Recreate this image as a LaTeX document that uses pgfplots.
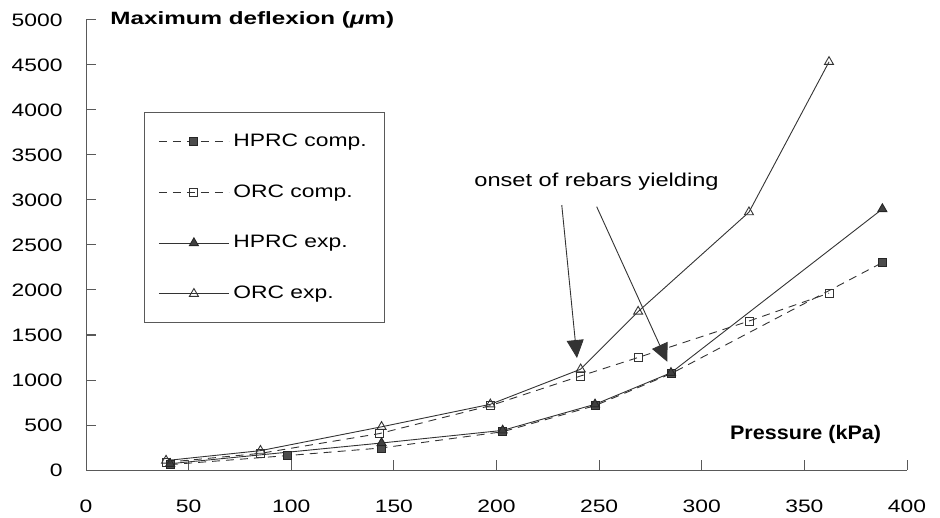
\documentclass[border=0pt]{standalone}
\usepackage{fontspec}
\setmainfont{Liberation Sans}[FakeStretch=1.27]
\newfontfamily\tfont{Liberation Sans}[FakeStretch=1.36]
\newfontfamily\pfont{Liberation Sans}[FakeStretch=1.1]
\usepackage{pgfplots}
\pgfplotsset{compat=1.18}
\usetikzlibrary{arrows.meta}

\tikzset{
  ln/.style={black!80,line width=0.45pt},
  cmp/.style={ln,dash pattern=on 4pt off 3pt},
  hd/.style={ln,-{Triangle[length=9pt,width=8.5pt]}},
}

\begin{document}
\fontsize{9pt}{11pt}\selectfont
\begin{tikzpicture}
\begin{axis}[
  at={(0,0)},anchor=south west,
  scale only axis,width=410.5pt,height=225pt,
  xmin=0,xmax=400,ymin=0,ymax=5000,
  axis lines=left,axis line style={-,black!65,line width=0.5pt},
  xtick={0,50,...,400},ytick={0,500,...,5000},
  tick align=inside,major tick length=5pt,
  tick style={black!65,line width=0.5pt},
  /pgf/number format/assume math mode=true,
  /pgf/number format/1000 sep={},
  tick label style={font=\fontsize{9pt}{11pt}\selectfont},
  xticklabel style={anchor=north,text height=18pt},
  yticklabel shift=8.5pt,
  clip=false,
  legend cell align=left,
  legend style={at={(axis description cs:0.0706,0.7956)},anchor=north west,
    draw=black!65,line width=0.5pt,inner xsep=7pt,inner ysep=8.8pt,row sep=13.7pt,
    font=\fontsize{9pt}{11pt}\selectfont},
  legend image code/.code={\draw[mark repeat=2,mark phase=2,#1]
    plot coordinates {(0pt,0pt)(17.5pt,0pt)(35pt,0pt)};},
]
% computed
\addplot[cmp,mark=square*,mark size=2pt,mark options={solid,fill=black!70,draw=black!85}]
  coordinates {(41,60)(98,160)(144,245)(203,425)(248,715)(285,1070)(388,2305)};
\addlegendentry{HPRC comp.}
\addplot[cmp,mark=square,mark size=2pt,mark options={solid,fill=white,draw=black!80}]
  coordinates {(39,85)(85,185)(143,405)(197,715)(241,1045)(269,1250)(323,1655)(362,1965)};
\addlegendentry{ORC comp.}
% experiments
\addplot[ln,mark=triangle*,mark size=2.6pt,mark options={fill=black!75,draw=black!85}]
  coordinates {(41,70)(144,300)(203,440)(248,730)(285,1080)(388,2900)};
\addlegendentry{HPRC exp.}
\addplot[ln,mark=triangle,mark size=2.6pt,mark options={fill=white,draw=black!80}]
  coordinates {(39,105)(85,215)(144,480)(197,730)(241,1120)(269,1760)(323,2865)(362,4535)};
\addlegendentry{ORC exp.}

\node[anchor=west,font=\tfont\bfseries\fontsize{8.9pt}{11pt}\selectfont] at (axis cs:8.8,5000) {Maximum deflexion ({\itshape μ}m)};
\node[anchor=east,font=\pfont\bfseries\fontsize{9.8pt}{11pt}\selectfont] at (axis cs:390.5,400) {Pressure (kPa)};
\node[anchor=west,font=\fontsize{9.3pt}{11pt}\selectfont] at (axis cs:186.1,3200) {onset of rebars yielding};
\draw[hd] (axis cs:231.8,2944) -- (axis cs:239.2,1244);
\draw[hd] (axis cs:248.8,2926) -- (axis cs:283.2,1203);
\end{axis}
\pgfresetboundingbox
\path[use as bounding box] (-43pt,-24pt) rectangle (427pt,235pt);
\end{tikzpicture}
\end{document}
